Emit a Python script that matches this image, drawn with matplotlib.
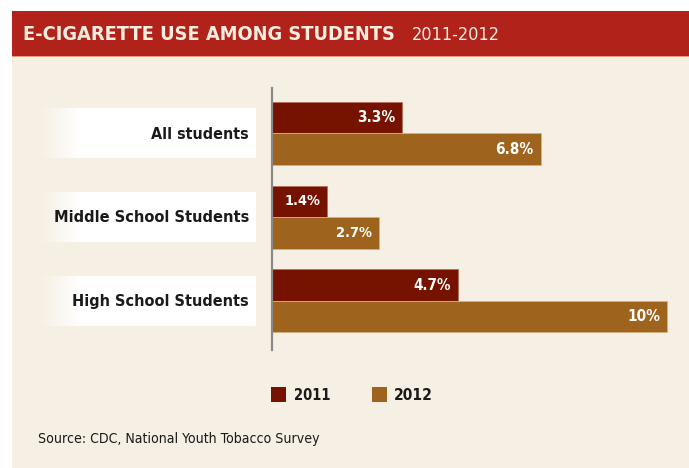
import matplotlib
matplotlib.use('Agg')
import matplotlib.pyplot as plt
from matplotlib import font_manager
from matplotlib.patches import Rectangle
import matplotlib.transforms as mtransforms

# data
categories = ['All students', 'Middle School Students', 'High School Students']
years = ['2011', '2012']
values_2011 = [3.3, 1.4, 4.7]
values_2012 = [6.8, 2.7, 10.0]
labels_2011 = ['3.3%', '1.4%', '4.7%']
labels_2012 = ['6.8%', '2.7%', '10%']

RED = '#761200'
GOLD = '#9E631C'
CREAM = '#F6EFE3'
HEADER = '#B0221A'
INK = '#1A1A1A'

# look for a condensed face, otherwise plain DejaVu Sans squeezed by size
cond = {}
for f in font_manager.fontManager.ttflist:
    fn = f.fname.lower()
    if ('condensed' in fn or 'narrow' in fn) and 'oblique' not in fn and 'italic' not in fn:
        key = 'bold' if 'bold' in fn else 'normal'
        cond.setdefault(key, f.fname)


def fp(weight='normal'):
    if weight in cond:
        return font_manager.FontProperties(fname=cond[weight])
    return font_manager.FontProperties(family='DejaVu Sans', weight=weight)


W, H = 689, 468
fig = plt.figure(figsize=(W / 100, H / 100), dpi=100)
fig.patch.set_facecolor('white')
renderer = fig.canvas.get_renderer()


def fit(t, width_px, max_size):
    t.set_fontsize(10)
    w = t.get_window_extent(renderer).width
    t.set_fontsize(min(max_size, 10 * width_px / w))
    return t


# background axes in pixel coordinates
bg = fig.add_axes([0, 0, 1, 1], zorder=0)
bg.set_xlim(0, W)
bg.set_ylim(H, 0)
bg.axis('off')
bg.add_patch(Rectangle((12, 57), W - 12, H - 57, color=CREAM, lw=0))
bg.add_patch(Rectangle((12, 11), W - 12, 45, color=HEADER, lw=0))
bg.add_patch(Rectangle((12, 55.5), W - 12, 1.8, color='#E39C80', lw=0))
t = bg.text(23, 32.5, 'E-CIGARETTE USE AMONG STUDENTS', color='#F8EEDF',
            fontproperties=fp('bold'), va='center_baseline', ha='left')
fit(t, 372, 17)
t = bg.text(412, 32.5, '2011-2012', color='#F8EEDF', fontproperties=fp('normal'),
            va='center_baseline', ha='left')
fit(t, 88, 17)

# main chart axes
scale = 39.5  # px per percent
x0 = 272
xmax = (W - x0) / scale
ax = fig.add_axes([x0 / W, 1 - 350 / H, (W - x0) / W, (350 - 88) / H], zorder=2)
ax.set_facecolor('none')
ax.set_xlim(0, xmax)
ax.set_ylim(2.59, -0.544)

pos = list(range(len(categories)))
bh = 0.377
ax.barh([p - bh / 2 for p in pos], values_2011, height=bh, color=RED,
        edgecolor='#B5705A', linewidth=0.6)
ax.barh([p + bh / 2 for p in pos], values_2012, height=bh, color=GOLD,
        edgecolor='#D8B27E', linewidth=0.6)

val_w = {'3.3%': 38, '1.4%': 36, '4.7%': 38, '6.8%': 38, '2.7%': 36, '10%': 33}
for vals, labs, off in [(values_2011, labels_2011, -bh / 2),
                        (values_2012, labels_2012, bh / 2)]:
    for p, v, lab in zip(pos, vals, labs):
        a = ax.annotate(lab, (v, p + off), xytext=(-5, 1), textcoords='offset points',
                        ha='right', va='center_baseline', color='white',
                        fontproperties=fp('bold'))
        fit(a, val_w[lab], 13.5)

for s in ['top', 'right', 'bottom']:
    ax.spines[s].set_visible(False)
ax.spines['left'].set_color('#8A8A8A')
ax.spines['left'].set_linewidth(1.6)
ax.set_xticks([])
ax.set_yticks([])

# category label boxes: x in pixels, y in data
trans = mtransforms.blended_transform_factory(bg.transData, ax.transData)
box_h = 50 / 83.6
cat_w = [97, 194, 175]
for p, cat, cw in zip(pos, categories, cat_w):
    nfade = 40
    for i in range(nfade):
        bg.add_patch(Rectangle((40 + i, p - box_h / 2), 1.05, box_h,
                               color='white', alpha=(i + 1) / nfade, lw=0,
                               transform=trans))
    bg.add_patch(Rectangle((80, p - box_h / 2), 176, box_h, color='white',
                           lw=0, transform=trans))
    t = bg.text(249, p - 0.01, cat, transform=trans, ha='right', va='center_baseline',
                fontproperties=fp('bold'), color=INK)
    fit(t, cw, 15)

# legend
bg.add_patch(Rectangle((271, 387), 15, 15, color=RED, lw=0))
t = bg.text(294, 394, years[0], fontproperties=fp('bold'), va='center_baseline', color=INK)
fit(t, 37, 14)
bg.add_patch(Rectangle((372, 387), 15, 15, color=GOLD, lw=0))
t = bg.text(394, 394, years[1], fontproperties=fp('bold'), va='center_baseline', color=INK)
fit(t, 39, 14)

t = bg.text(38, 437, 'Source: CDC, National Youth Tobacco Survey',
            fontproperties=fp('normal'), va='center_baseline', color=INK)
fit(t, 281, 12)

fig.savefig('out.png', dpi=100, facecolor='white')
